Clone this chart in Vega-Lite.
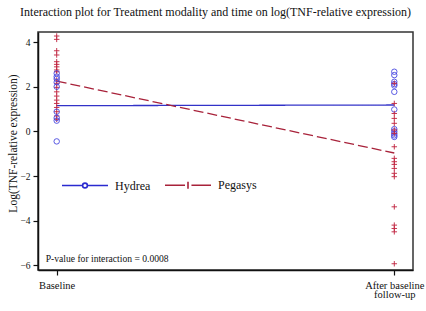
{
  "$schema": "https://vega.github.io/schema/vega-lite/v6.json",
  "width": 375,
  "height": 238,
  "autosize": {"type": "none"},
  "padding": {"left": 38, "top": 32, "right": 13, "bottom": 41},
  "background": "white",
  "config": {
    "font": "Liberation Serif",
    "view": {"stroke": "#333", "strokeWidth": 1.5},
    "axis": {"grid": false, "labelFont": "Liberation Serif", "titleFont": "Liberation Serif", "domainColor": "#111", "domainWidth": 1.5, "tickColor": "#111", "tickWidth": 1.2, "labelColor": "#111", "titleColor": "#111", "titleFontWeight": "normal"}
  },
  "title": {"text": "Interaction plot for Treatment modality and time on log(TNF-relative expression)", "font": "Liberation Serif", "fontSize": 12, "fontWeight": "normal", "color": "#111", "anchor": "middle", "frame": "group", "offset": 12, "dx": -10},
  "datasets": {
    "points": [
      {"time": "Baseline", "series": "Pegasys", "value": 4.27},
      {"time": "Baseline", "series": "Pegasys", "value": 4.12},
      {"time": "Baseline", "series": "Pegasys", "value": 3.61},
      {"time": "Baseline", "series": "Pegasys", "value": 3.42},
      {"time": "Baseline", "series": "Pegasys", "value": 3.12},
      {"time": "Baseline", "series": "Pegasys", "value": 3.0},
      {"time": "Baseline", "series": "Pegasys", "value": 2.89},
      {"time": "Baseline", "series": "Pegasys", "value": 2.75},
      {"time": "Baseline", "series": "Pegasys", "value": 2.67},
      {"time": "Baseline", "series": "Pegasys", "value": 2.3},
      {"time": "Baseline", "series": "Pegasys", "value": 2.15},
      {"time": "Baseline", "series": "Pegasys", "value": 1.97},
      {"time": "Baseline", "series": "Pegasys", "value": 1.77},
      {"time": "Baseline", "series": "Pegasys", "value": 1.58},
      {"time": "Baseline", "series": "Pegasys", "value": 1.4},
      {"time": "Baseline", "series": "Pegasys", "value": 1.25},
      {"time": "Baseline", "series": "Pegasys", "value": 1.07},
      {"time": "Baseline", "series": "Pegasys", "value": 0.88},
      {"time": "Baseline", "series": "Pegasys", "value": 0.69},
      {"time": "Baseline", "series": "Pegasys", "value": 0.54},
      {"time": "Baseline", "series": "Hydrea", "value": 2.6},
      {"time": "Baseline", "series": "Hydrea", "value": 2.45},
      {"time": "Baseline", "series": "Hydrea", "value": 2.35},
      {"time": "Baseline", "series": "Hydrea", "value": 2.2},
      {"time": "Baseline", "series": "Hydrea", "value": 2.0},
      {"time": "Baseline", "series": "Hydrea", "value": 0.88},
      {"time": "Baseline", "series": "Hydrea", "value": 0.6},
      {"time": "Baseline", "series": "Hydrea", "value": 0.48},
      {"time": "Baseline", "series": "Hydrea", "value": -0.45},
      {"time": "After baseline follow-up", "series": "Hydrea", "value": 2.67},
      {"time": "After baseline follow-up", "series": "Hydrea", "value": 2.52},
      {"time": "After baseline follow-up", "series": "Hydrea", "value": 2.22},
      {"time": "After baseline follow-up", "series": "Hydrea", "value": 2.12},
      {"time": "After baseline follow-up", "series": "Hydrea", "value": 2.05},
      {"time": "After baseline follow-up", "series": "Hydrea", "value": 1.77},
      {"time": "After baseline follow-up", "series": "Hydrea", "value": 0.98},
      {"time": "After baseline follow-up", "series": "Hydrea", "value": 0.1},
      {"time": "After baseline follow-up", "series": "Hydrea", "value": 0.0},
      {"time": "After baseline follow-up", "series": "Hydrea", "value": -0.1},
      {"time": "After baseline follow-up", "series": "Hydrea", "value": -0.18},
      {"time": "After baseline follow-up", "series": "Hydrea", "value": -0.25},
      {"time": "After baseline follow-up", "series": "Pegasys", "value": 2.15},
      {"time": "After baseline follow-up", "series": "Pegasys", "value": 1.25},
      {"time": "After baseline follow-up", "series": "Pegasys", "value": 0.8},
      {"time": "After baseline follow-up", "series": "Pegasys", "value": 0.58},
      {"time": "After baseline follow-up", "series": "Pegasys", "value": 0.36},
      {"time": "After baseline follow-up", "series": "Pegasys", "value": 0.06},
      {"time": "After baseline follow-up", "series": "Pegasys", "value": -0.09},
      {"time": "After baseline follow-up", "series": "Pegasys", "value": -0.69},
      {"time": "After baseline follow-up", "series": "Pegasys", "value": -1.21},
      {"time": "After baseline follow-up", "series": "Pegasys", "value": -1.36},
      {"time": "After baseline follow-up", "series": "Pegasys", "value": -1.48},
      {"time": "After baseline follow-up", "series": "Pegasys", "value": -1.66},
      {"time": "After baseline follow-up", "series": "Pegasys", "value": -1.88},
      {"time": "After baseline follow-up", "series": "Pegasys", "value": -2.03},
      {"time": "After baseline follow-up", "series": "Pegasys", "value": -3.38},
      {"time": "After baseline follow-up", "series": "Pegasys", "value": -4.2},
      {"time": "After baseline follow-up", "series": "Pegasys", "value": -4.35},
      {"time": "After baseline follow-up", "series": "Pegasys", "value": -4.5},
      {"time": "After baseline follow-up", "series": "Pegasys", "value": -5.93}
    ],
    "means": [
      {"time": "Baseline", "series": "Hydrea", "value": 1.15},
      {"time": "After baseline follow-up", "series": "Hydrea", "value": 1.18},
      {"time": "Baseline", "series": "Pegasys", "value": 2.25},
      {"time": "After baseline follow-up", "series": "Pegasys", "value": -0.97}
    ],
    "note": [
      {"time": "Baseline", "label": "P-value for interaction = 0.0008"}
    ]
  },
  "layer": [
    {
      "data": {"name": "means"},
      "mark": {"type": "line", "strokeWidth": 1.3},
      "encoding": {
        "x": {
          "field": "time", "type": "ordinal",
          "scale": {"type": "point", "domain": ["Baseline", "After baseline follow-up"], "padding": 0.0554},
          "axis": {"title": null, "labelAngle": 0, "labelFontSize": 10.5, "tickSize": 5, "labelPadding": 5, "labelExpr": "datum.value == 'Baseline' ? 'Baseline' : ['After baseline', 'follow-up']", "labelLineHeight": 9.5}
        },
        "y": {
          "field": "value", "type": "quantitative",
          "scale": {"domain": [-6.21, 4.45], "nice": false, "zero": false},
          "axis": {"title": "Log(TNF-relative expression)", "titleFontSize": 11.5, "values": [-6, -4, -2, 0, 2, 4], "labelFontSize": 9.5, "tickSize": 5, "labelPadding": 3, "titlePadding": 1, "titleY": 111}
        },
        "color": {"field": "series", "type": "nominal", "scale": {"domain": ["Hydrea", "Pegasys"], "range": ["#3232c8", "#a8223a"]}, "legend": null},
        "strokeDash": {"field": "series", "type": "nominal", "scale": {"domain": ["Hydrea", "Pegasys"], "range": [[1, 0], [10, 4]]}, "legend": null}
      }
    },
    {
      "data": {"name": "points"},
      "mark": {"type": "point", "filled": false, "strokeWidth": 0.9, "opacity": 1},
      "encoding": {
        "x": {"field": "time", "type": "ordinal"},
        "y": {"field": "value", "type": "quantitative"},
        "color": {"field": "series", "type": "nominal", "scale": {"domain": ["Hydrea", "Pegasys"], "range": ["#4a4ae0", "#c0203c"]}, "legend": null},
        "shape": {"field": "series", "type": "nominal", "scale": {"domain": ["Hydrea", "Pegasys"], "range": ["circle", "M-1,0H1M0,-1V1"]}, "legend": null},
        "size": {"value": 30}
      }
    },
    {
      "data": {"name": "means"},
      "mark": {"type": "point", "filled": false, "opacity": 0},
      "encoding": {
        "x": {"field": "time", "type": "ordinal"},
        "y": {"field": "value", "type": "quantitative"},
        "color": {
          "field": "series", "type": "nominal",
          "scale": {"domain": ["Hydrea", "Pegasys"], "range": ["#2a2ad0", "#a8223a"]},
          "legend": {
            "title": null, "orient": "none", "direction": "horizontal", "legendX": 23, "legendY": 129,
            "symbolSize": 2116, "symbolStrokeWidth": 1.6, "symbolOpacity": 1, "symbolFillColor": "transparent",
            "labelFont": "Liberation Serif", "labelFontSize": 12, "labelColor": "#111", "labelOffset": 6, "columnPadding": 10
          }
        },
        "shape": {
          "field": "series", "type": "nominal",
          "scale": {"domain": ["Hydrea", "Pegasys"], "range": [
            "M-1,0H-0.104M0.104,0H1M0.104,0A0.104,0.104,0,1,1,-0.104,0A0.104,0.104,0,1,1,0.104,0",
            "M-1,0H-0.13M0,-0.15V0.15M0.15,0H1"
          ]},
          "legend": {
            "title": null, "orient": "none", "direction": "horizontal", "legendX": 23, "legendY": 129,
            "symbolSize": 2116, "symbolStrokeWidth": 1.6, "symbolOpacity": 1, "symbolFillColor": "transparent",
            "labelFont": "Liberation Serif", "labelFontSize": 12, "labelColor": "#111", "labelOffset": 6, "columnPadding": 10
          }
        }
      }
    },
    {
      "data": {"name": "note"},
      "mark": {"type": "text", "align": "left", "baseline": "middle", "font": "Liberation Serif", "fontSize": 9.6, "fill": "#111", "opacity": 1, "dx": -11},
      "encoding": {
        "x": {"field": "time", "type": "ordinal"},
        "y": {"datum": -5.72, "type": "quantitative"},
        "text": {"field": "label", "type": "nominal"}
      }
    }
  ],
  "resolve": {
    "scale": {"shape": "independent", "color": "independent"},
    "legend": {"shape": "independent", "color": "independent"}
  }
}
